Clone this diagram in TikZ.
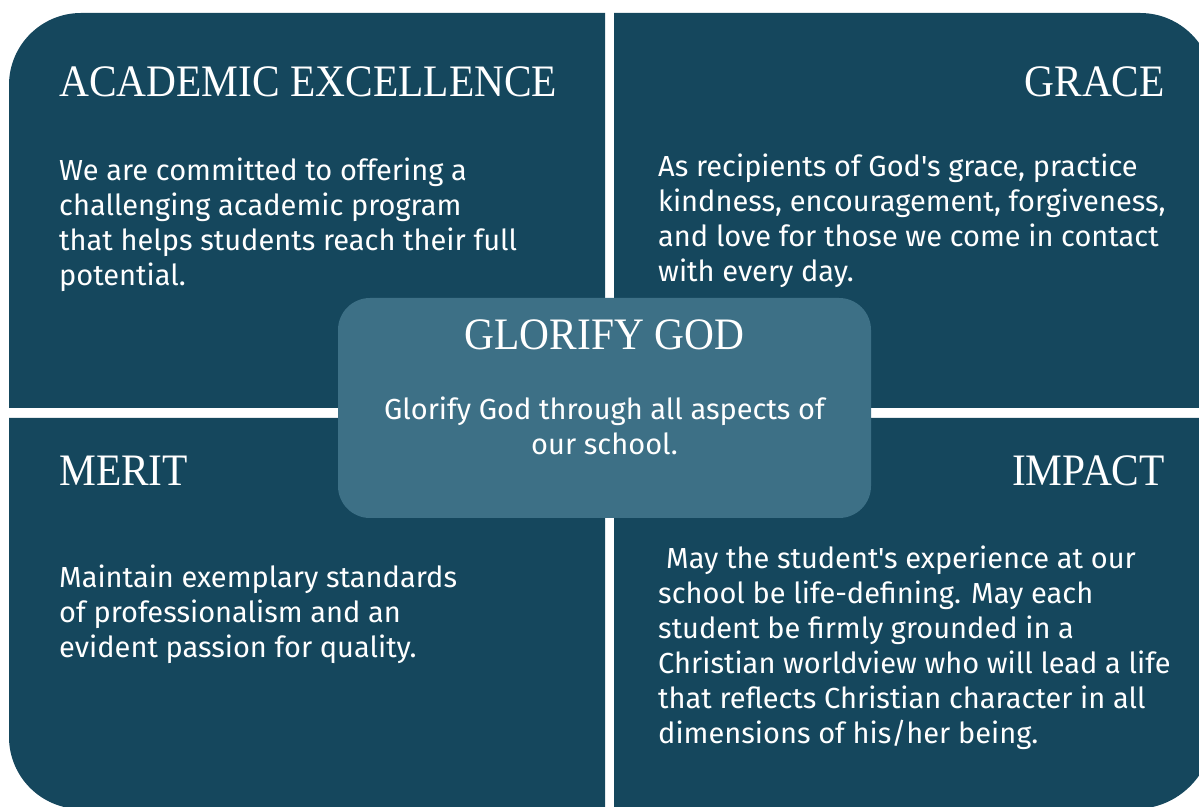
\documentclass[tikz,border=0pt]{standalone}
\usepackage{fontspec}
\newfontfamily\headfont[FakeStretch=0.92]{Liberation Serif}
\newfontfamily\bodyfont{Fira Sans}
\definecolor{quad}{HTML}{15475D}
\definecolor{mid}{HTML}{3D7086}
\tikzset{
  quadfill/.style={fill=quad, draw=none},
  head/.style={font=\headfont\fontsize{45}{45}\selectfont, text=white, inner sep=0pt},
  body/.style={font=\bodyfont\fontsize{29}{35}\selectfont, text=white, inner sep=0pt, align=left},
  bodyc/.style={font=\bodyfont\fontsize{29}{35}\selectfont, text=white, inner sep=0pt, align=center}
}
\begin{document}
\begin{tikzpicture}[x=1pt,y=1pt]
\useasboundingbox (0,0) rectangle (1199,806);
\begin{scope}
\clip (0,0) rectangle (1199,806);
% top-left
\path[quadfill] (9,398) -- (9,721) arc[start angle=180,end angle=90,radius=72] -- (605,793) -- (605,398) -- cycle;
% top-right
\path[quadfill] (614,398) -- (614,793) -- (1140,793) arc[start angle=90,end angle=0,radius=73] -- (1213,398) -- cycle;
% bottom-left
\path[quadfill] (9,388) -- (605,388) -- (605,-3) -- (81,-3) arc[start angle=270,end angle=180,radius=72] -- cycle;
% bottom-right
\path[quadfill] (614,388) -- (1213,388) -- (1213,75) arc[start angle=0,end angle=-90,radius=78] -- (614,-3) -- cycle;
\end{scope}
% centre box
\node[fill=mid, draw=none, rounded corners=32pt, minimum width=533pt, minimum height=220pt, inner sep=0pt] (center) at (604.5,398) {};

% headings
\node[head, anchor=base west] (h1) at (59,709) {ACADEMIC EXCELLENCE};
\node[head, anchor=base east] (h2) at (1165,709) {GRACE};
\node[head, anchor=base west] (h3) at (59,320) {MERIT};
\node[head, anchor=base east] (h4) at (1165,320) {IMPACT};
\node[head, anchor=base] (h5) at (604.5,456) {GLORIFY GOD};

% bodies (base anchor = baseline of last line)
\node[body, anchor=base west] (b1) at (59,520) {We are committed to offering a\\challenging academic program\\that helps students reach their full\\potential.};
\node[body, anchor=base west] (b2) at (658,524) {As recipients of God's grace, practice\\kindness, encouragement, forgiveness,\\and love for those we come in contact\\with every day.};
\node[body, anchor=base west] (b3) at (59,148) {Maintain exemplary standards\\of professionalism and an\\evident passion for quality.};
\node[body, anchor=base west] (b4) at (658,63) {\hspace*{8pt}May the student's experience at our\\school be life-defining. May each\\student be firmly grounded in a\\Christian worldview who will lead a life\\that reflects Christian character in all\\dimensions of his/her being.};
\node[bodyc, anchor=base] (b5) at (604.5,351) {Glorify God through all aspects of\\our school.};
\end{tikzpicture}
\end{document}
